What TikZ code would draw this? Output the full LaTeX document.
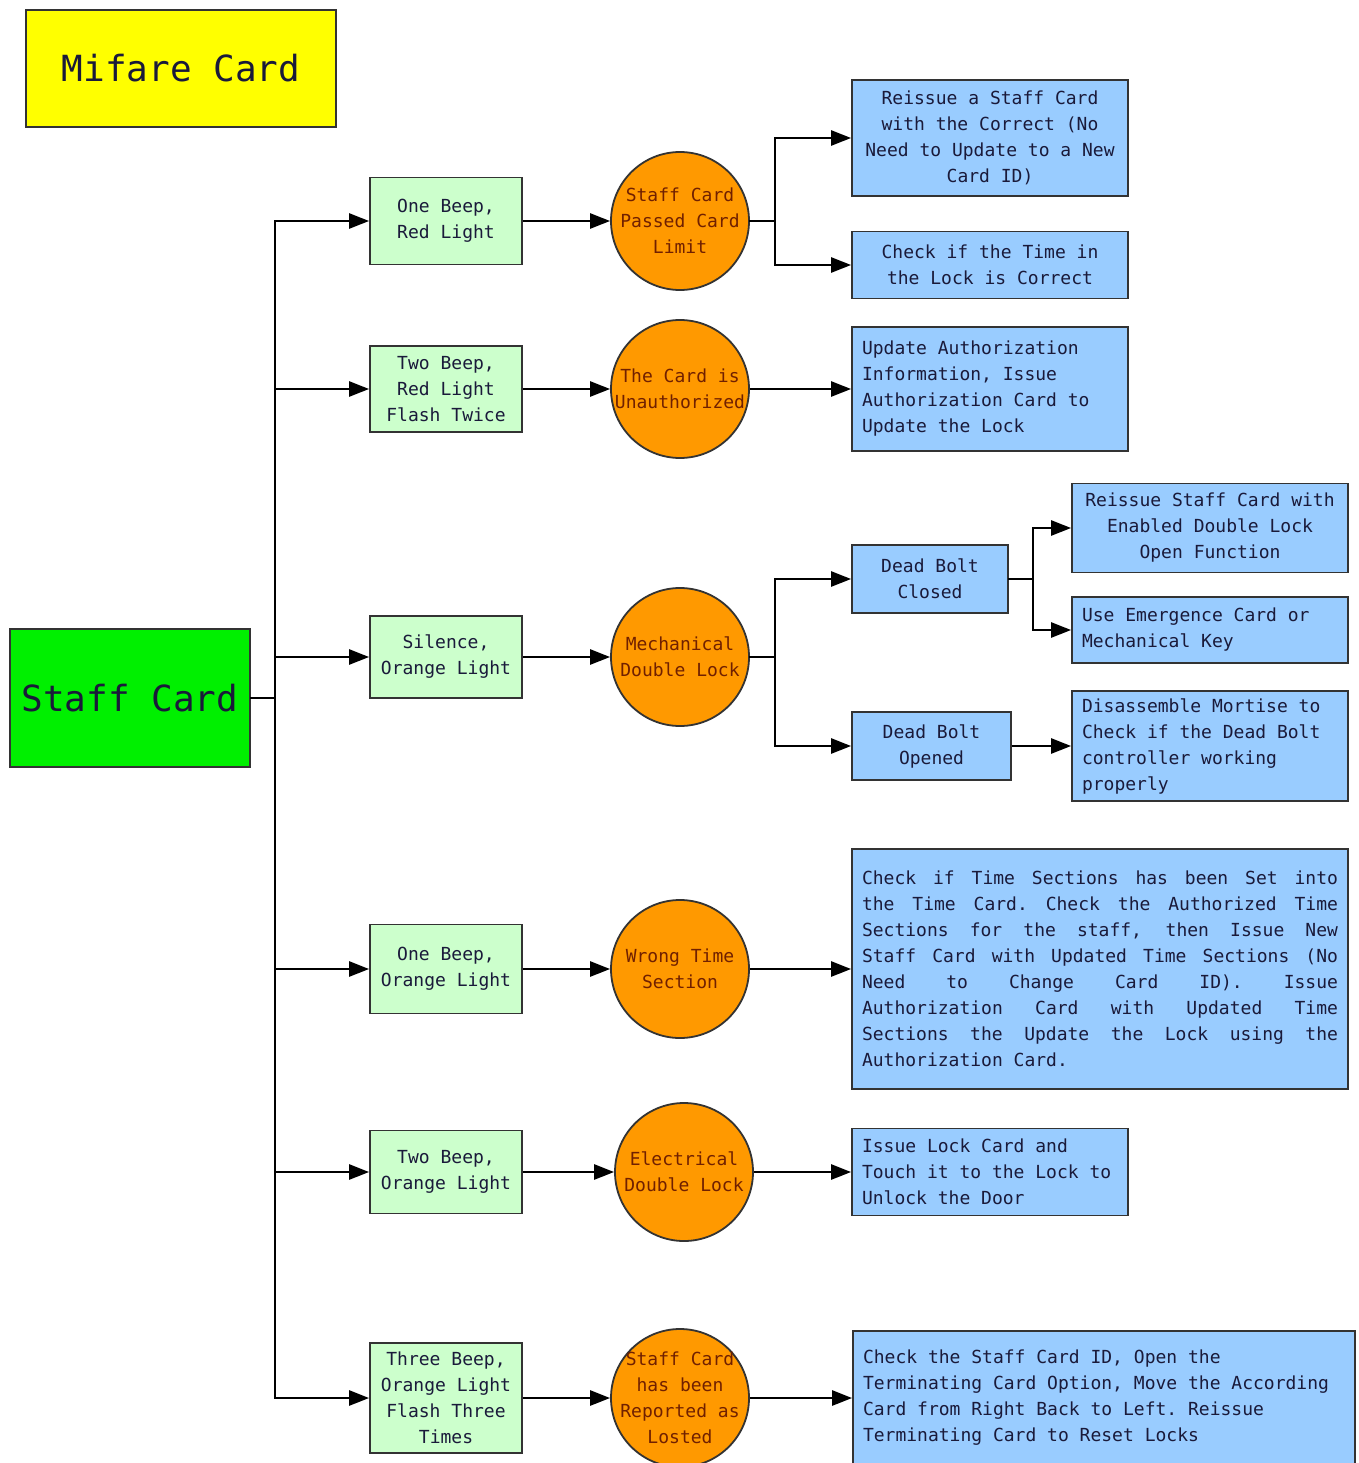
\documentclass[tikz,border=0pt]{standalone}
\usepackage{fontspec}
\setmonofont{DejaVu Sans Mono}
\usetikzlibrary{arrows.meta}
\definecolor{ylw}{HTML}{FFFF00}
\definecolor{grn}{HTML}{00F000}
\definecolor{lgrn}{HTML}{CCFFCC}
\definecolor{orng}{HTML}{FF9900}
\definecolor{lblue}{HTML}{99CCFF}
\definecolor{brn}{HTML}{702000}
\definecolor{ink}{HTML}{1A1A3A}
\definecolor{edge}{HTML}{333333}
\tikzset{
  base/.style={draw=edge, line width=1.8pt, inner sep=0pt, text=ink,
    font=\ttfamily\fontsize{18}{26}\selectfont,
    execute at begin node={\spaceskip=10.84pt\relax\xspaceskip=10.84pt\relax}},
  titlebox/.style={base, font=\ttfamily\fontsize{36}{40}\selectfont,
    execute at begin node={\spaceskip=21.7pt\relax\xspaceskip=21.7pt\relax}},
  gbox/.style={base, fill=lgrn, align=center, minimum width=152pt},
  circ/.style={base, circle, fill=orng, minimum size=138pt, align=center, text=brn},
  bbox/.style={base, fill=lblue, minimum width=276pt},
  ln/.style={line width=2.6pt, line cap=rect},
  arr/.style={line width=2.6pt, -{Triangle[length=20pt,width=15pt]}}
}
\begin{document}
\begin{tikzpicture}[x=1pt,y=-1pt]
\useasboundingbox (0,0) rectangle (1358,1463);
\clip (0,0) rectangle (1358,1463);
\fill[white] (0,0) rectangle (1358,1463);

% titles
\node[titlebox, fill=ylw, minimum width=310pt, minimum height=117pt] (mifare) at (181,68.5) {Mifare Card};
\node[titlebox, fill=grn, minimum width=240pt, minimum height=138pt] (staff) at (130,698) {Staff Card};

% green boxes
\node[gbox, minimum height=87pt] (g1) at (446,221) {One Beep,\\Red Light};
\node[gbox, minimum height=86pt] (g2) at (446,389) {Two Beep,\\Red Light\\Flash Twice};
\node[gbox, minimum height=82pt] (g3) at (446,657) {Silence,\\Orange Light};
\node[gbox, minimum height=89pt] (g4) at (446,969) {One Beep,\\Orange Light};
\node[gbox, minimum height=83pt] (g5) at (446,1172) {Two Beep,\\Orange Light};
\node[gbox, minimum height=110pt] (g6) at (446,1398) {Three Beep,\\Orange Light\\Flash Three\\Times};

% circles
\node[circ] (c1) at (680,221) {Staff Card\\Passed Card\\Limit};
\node[circ] (c2) at (680,389) {The Card is\\Unauthorized};
\node[circ] (c3) at (680,657) {Mechanical\\Double Lock};
\node[circ] (c4) at (680,969) {Wrong Time\\Section};
\node[circ] (c5) at (684,1172) {Electrical\\Double Lock};
\node[circ, inner sep=-10pt] (c6) at (680,1398) {Staff Card\\has been\\Reported as\\Losted};

% right boxes
\node[bbox, minimum height=116pt, align=center] (r1a) at (990,138) {Reissue a Staff Card\\with the Correct (No\\Need to Update to a New\\Card ID)};
\node[bbox, minimum height=67pt, align=center] (r1b) at (990,265) {Check if the Time in\\the Lock is Correct};
\node[bbox, minimum height=124pt, text width=256pt, align=left] (r2) at (990,389) {Update Authorization\\Information, Issue\\Authorization Card to\\Update the Lock};
\node[bbox, minimum width=156pt, minimum height=68pt, align=center] (d1) at (930,579) {Dead Bolt\\Closed};
\node[bbox, minimum width=159pt, minimum height=68pt, align=center] (d2) at (931.5,746) {Dead Bolt\\Opened};
\node[bbox, minimum height=89pt, align=center] (r3a) at (1210,528) {Reissue Staff Card with\\Enabled Double Lock\\Open Function};
\node[bbox, minimum height=66pt, text width=256pt, align=left] (r3b) at (1210,630) {Use Emergence Card or\\Mechanical Key};
\node[bbox, minimum height=110pt, text width=256pt, align=left] (r3c) at (1210,746) {Disassemble Mortise to\\Check if the Dead Bolt\\controller working\\properly};
\node[bbox, minimum width=496pt, minimum height=240pt, text width=476pt, align=left] (r4) at (1100,969) {\spaceskip=10.84pt plus 30pt\relax\xspaceskip=10.84pt plus 30pt\relax
\makebox[476pt][s]{Check if Time Sections has been Set into}\\
\makebox[476pt][s]{the Time Card. Check the Authorized Time}\\
\makebox[476pt][s]{Sections for the staff, then Issue New}\\
\makebox[476pt][s]{Staff Card with Updated Time Sections (No}\\
\makebox[476pt][s]{Need to Change Card ID). Issue}\\
\makebox[476pt][s]{Authorization Card with Updated Time}\\
\makebox[476pt][s]{Sections the Update the Lock using the}\\
Authorization Card.};
\node[bbox, minimum height=87pt, text width=256pt, align=left] (r5) at (990,1172) {Issue Lock Card and\\Touch it to the Lock to\\Unlock the Door};
\node[bbox, minimum width=502pt, minimum height=134pt, text width=482pt, align=left] (r6) at (1104,1398) {Check the Staff Card ID, Open the\\Terminating Card Option, Move the According\\Card from Right Back to Left. Reissue\\Terminating Card to Reset Locks};

% trunk
\coordinate (tm) at (275,698);
\coordinate (t1) at (275,221);
\coordinate (t2) at (275,389);
\coordinate (t3) at (275,657);
\coordinate (t4) at (275,969);
\coordinate (t5) at (275,1172);
\coordinate (t6) at (275,1398);
\draw[ln] (staff.east) -- (tm);
\draw[ln] (t1) -- (t6);
\foreach \i in {1,...,6} {\draw[arr] (t\i) -- (g\i);}
\foreach \i in {1,...,6} {\draw[arr] (g\i) -- (c\i);}

% branch 1
\coordinate (s1) at (775,221);
\coordinate (s1a) at (775,138);
\coordinate (s1b) at (775,265);
\draw[ln] (c1.east) -- (s1);
\draw[ln] (s1a) -- (s1b);
\draw[arr] (s1a) -- (r1a);
\draw[arr] (s1b) -- (r1b);
% branch 2
\draw[arr] (c2) -- (r2);
% branch 3
\coordinate (s3) at (775,657);
\coordinate (s3a) at (775,579);
\coordinate (s3b) at (775,746);
\draw[ln] (c3.east) -- (s3);
\draw[ln] (s3a) -- (s3b);
\draw[arr] (s3a) -- (d1);
\draw[arr] (s3b) -- (d2);
\coordinate (s4) at (1033,579);
\coordinate (s4a) at (1033,528);
\coordinate (s4b) at (1033,630);
\draw[ln] (d1.east) -- (s4);
\draw[ln] (s4a) -- (s4b);
\draw[arr] (s4a) -- (r3a);
\draw[arr] (s4b) -- (r3b);
\draw[arr] (d2) -- (r3c);
% others
\draw[arr] (c4) -- (r4);
\draw[arr] (c5) -- (r5);
\draw[arr] (c6) -- (r6);
\end{tikzpicture}
\end{document}
